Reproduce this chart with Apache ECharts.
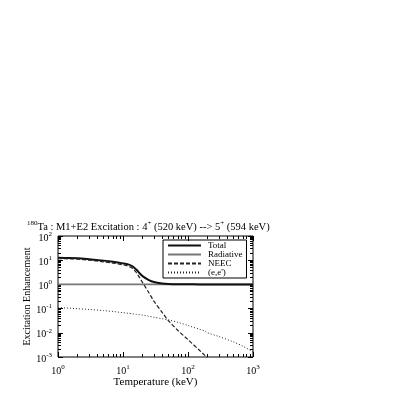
<!DOCTYPE html>
<html>
<head>
<meta charset="utf-8">
<script src="https://cdn.jsdelivr.net/npm/echarts@6/dist/echarts.min.js"></script>
<style>
  html, body { margin: 0; padding: 0; background: #fff; }
  #chart { width: 403px; height: 403px; }
</style>
</head>
<body>
<div id="chart"></div>
<script>
// temperature grid (keV)
const temperature = [1, 1.5, 2, 3, 5, 7, 10, 12, 14, 16, 18, 20, 25, 30, 40, 50, 70, 100, 150, 180, 200, 300, 500, 700, 1000]
const totalVals = [12.5, 12.4, 12.1, 11, 9.6, 8.6, 7.4, 6.7, 5.6, 4.1, 2.9, 2.2, 1.5, 1.25, 1.1, 1.05, 1.02, 1.01, 1, 1, 1, 1, 1, 1, 1]
const radiativeVals = [1, 1, 1, 1, 1, 1, 1, 1, 1, 1, 1, 1, 1, 1, 1, 1, 1, 1, 1, 1, 1, 1, 1, 1, 1]
const neecVals = [11.5, 11.4, 11.1, 10, 8.6, 7.6, 6.4, 5.7, 4.6, 3.1, 1.9, 1.2, 0.45, 0.2, 0.07, 0.032, 0.0125, 0.0052, 0.0019, 0.0012, 0.00095, null, null, null, null]
const eeVals = [0.11, 0.104, 0.099, 0.092, 0.083, 0.076, 0.068, 0.064, 0.061, 0.058, 0.056, 0.054, 0.048, 0.044, 0.038, 0.034, 0.027, 0.02, 0.014, 0.012, 0.01, 0.007, 0.0042, 0.0028, 0.0016]

const xMajor = [1, 10, 100, 1000]
const yMajor = [0.001, 0.01, 0.1, 1, 10, 100]

function minors(lo, hi) {
  const out = []
  for (let d = lo; d < hi; d *= 10) {
    for (let k = 2; k <= 9; k++) out.push(+(d * k).toPrecision(3))
  }
  return out
}

const font = 'Liberation Serif'
const supRich = {
  base: { fontFamily: font, fontSize: 10, fontWeight: 'normal', color: '#000', padding: [4, 0, 0, 0] },
  sup: { fontFamily: font, fontSize: 7, fontWeight: 'normal', color: '#000', padding: [0, 0, 4, 0] }
}
const titleRich = {
  base: { fontFamily: font, fontSize: 10.5, fontWeight: 'normal', color: '#000', padding: [4, 0, 0, 0] },
  sup: { fontFamily: font, fontSize: 7, fontWeight: 'normal', color: '#000', padding: [0, 0, 4, 0] }
}
function powLabel(v) {
  const e = Math.round(Math.log10(v))
  return '{base|10}{sup|' + e + '}'
}

function pairs(vals) {
  return temperature.map((t, i) => [t, vals[i]]).filter(p => p[1] !== null)
}

const chart = echarts.init(document.getElementById('chart'))

function makeX(pos, ticks, len, labels) {
  return {
    type: 'log', min: 1, max: 1000, position: pos, gridIndex: 0,
    axisLine: { show: false },
    splitLine: { show: false },
    axisTick: { show: true, inside: true, length: len, customValues: ticks, lineStyle: { color: '#000', width: 1 } },
    axisLabel: labels ? { show: true, customValues: xMajor, formatter: powLabel, rich: supRich, margin: 5 } : { show: false }
  }
}
function makeY(pos, ticks, len, labels) {
  return {
    type: 'log', min: 0.001, max: 100, position: pos, gridIndex: 0,
    axisLine: { show: false },
    splitLine: { show: false },
    axisTick: { show: true, inside: true, length: len, customValues: ticks, lineStyle: { color: '#000', width: 1 } },
    axisLabel: labels ? { show: true, customValues: yMajor, formatter: powLabel, rich: supRich, margin: 6 } : { show: false }
  }
}

const xAxes = [
  makeX('bottom', xMajor, 5, true),
  makeX('bottom', minors(1, 1000), 3, false),
  makeX('top', xMajor, 5, false),
  makeX('top', minors(1, 1000), 3, false)
]
xAxes[0].name = 'Temperature (keV)'
xAxes[0].nameLocation = 'middle'
xAxes[0].nameGap = 14
xAxes[0].nameTextStyle = { fontFamily: font, fontSize: 11, color: '#000' }

const yAxes = [
  makeY('left', yMajor, 5, true),
  makeY('left', minors(0.001, 100), 3, false),
  makeY('right', yMajor, 5, false),
  makeY('right', minors(0.001, 100), 3, false)
]
yAxes[0].name = 'Excitation Enhancement'
yAxes[0].nameLocation = 'middle'
yAxes[0].nameRotate = 90
yAxes[0].nameGap = 23
yAxes[0].nameTextStyle = { fontFamily: font, fontSize: 10, color: '#000' }

chart.setOption({
  animation: false,
  title: {
    text: '{sup|180}{base|Ta : M1+E2 Excitation : 4}{sup|+}{base| (520 keV) --> 5}{sup|+}{base| (594 keV)}',
    left: 27, top: 218, padding: 0,
    textStyle: { fontWeight: 'normal', rich: titleRich }
  },
  grid: {
    left: 58, right: 150, top: 236, bottom: 46,
    show: true, borderColor: '#000', borderWidth: 1, backgroundColor: 'transparent'
  },
  legend: {
    orient: 'vertical',
    left: 163, top: 240,
    width: 87,
    padding: [1, 4, 1, 4],
    itemWidth: 33, itemHeight: 8, itemGap: 0,
    borderColor: '#000', borderWidth: 1, borderRadius: 0,
    itemStyle: { opacity: 0 },
    textStyle: { fontFamily: font, fontSize: 9, color: '#000', padding: [0, 0, 0, 2] },
    data: ['Total', 'Radiative', 'NEEC', '(e,e\')']
  },
  xAxis: xAxes,
  yAxis: yAxes,
  series: [
    {
      name: 'Radiative', type: 'line', data: pairs(radiativeVals), showSymbol: false, symbol: 'none',
      lineStyle: { color: '#777', width: 1.6 }, itemStyle: { color: '#777' }, z: 2
    },
    {
      name: 'Total', type: 'line', data: pairs(totalVals), showSymbol: false, symbol: 'none', smooth: 0.3,
      lineStyle: { color: '#111', width: 2 }, itemStyle: { color: '#111' }, z: 3
    },
    {
      name: 'NEEC', type: 'line', data: pairs(neecVals), showSymbol: false, symbol: 'none', smooth: 0.3,
      lineStyle: { color: '#222', width: 1.2, type: [4, 2] }, itemStyle: { color: '#222' }, z: 4
    },
    {
      name: '(e,e\')', type: 'line', data: pairs(eeVals), showSymbol: false, symbol: 'none', smooth: 0.3,
      lineStyle: { color: '#222', width: 1, type: [1, 2] }, itemStyle: { color: '#222' }, z: 4
    }
  ]
})
</script>
</body>
</html>
